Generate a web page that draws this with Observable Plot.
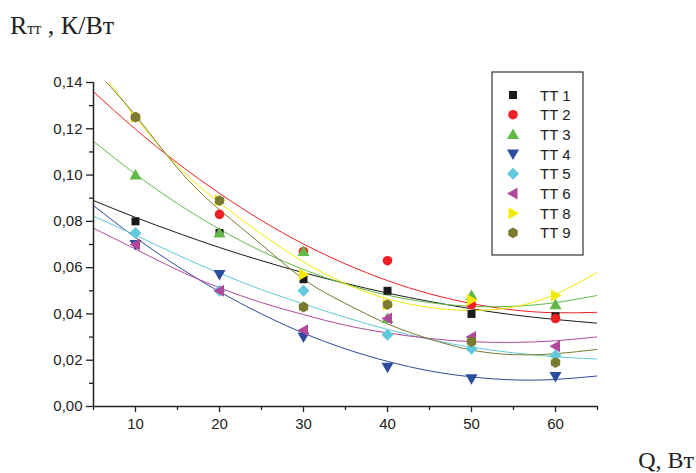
<!DOCTYPE html>
<html>
<head>
<meta charset="utf-8">
<script src="https://cdn.jsdelivr.net/npm/d3@7"></script>
<script src="https://cdn.jsdelivr.net/npm/@observablehq/plot@0.6"></script>
<style>
  html, body { margin: 0; padding: 0; background: #fff; }
  #chart { width: 696px; height: 473px; }
</style>
</head>
<body>
<div id="chart"></div>
<script>
// ---- data ----
const xs = [10, 20, 30, 40, 50, 60];
const seriesNames = ["TT 1", "TT 2", "TT 3", "TT 4", "TT 5", "TT 6", "TT 8", "TT 9"];
const tt1 = [0.080, 0.075, 0.055, 0.050, 0.040, 0.039];
const tt2 = [0.125, 0.083, 0.067, 0.063, 0.044, 0.038];
const tt3 = [0.100, 0.075, 0.067, 0.038, 0.048, 0.044];
const tt4 = [0.070, 0.057, 0.030, 0.017, 0.012, 0.013];
const tt5 = [0.075, 0.050, 0.050, 0.031, 0.025, 0.022];
const tt6 = [0.070, 0.050, 0.033, 0.038, 0.030, 0.026];
const tt8 = [0.125, 0.089, 0.057, 0.044, 0.046, 0.048];
const tt9 = [0.125, 0.089, 0.043, 0.044, 0.028, 0.019];

// fitted curves
const fitX = [5, 10, 15, 20, 25, 30, 35, 40, 45, 50, 55, 60, 65];
const fit1 = [0.089, 0.0817, 0.0750, 0.0687, 0.0630, 0.0578, 0.0532, 0.0490, 0.0454, 0.0422, 0.0396, 0.0376, 0.0360];
const fit2 = [0.136, 0.1198, 0.1052, 0.0921, 0.0804, 0.0702, 0.0616, 0.0544, 0.0487, 0.0445, 0.0417, 0.0405, 0.0407];
const fit3 = [0.1146, 0.1004, 0.0877, 0.0766, 0.0671, 0.0592, 0.0529, 0.0481, 0.0449, 0.0433, 0.0433, 0.0449, 0.0480];
const fit4 = [0.0868, 0.0730, 0.0606, 0.0496, 0.0400, 0.0317, 0.0249, 0.0195, 0.0154, 0.0128, 0.0115, 0.0117, 0.0132];
const fit5 = [0.0822, 0.0740, 0.0655, 0.0576, 0.0505, 0.0443, 0.0385, 0.0333, 0.0290, 0.0256, 0.0232, 0.0215, 0.0205];
const fit6 = [0.0770, 0.0680, 0.0590, 0.0513, 0.0449, 0.0397, 0.0351, 0.0318, 0.0294, 0.0280, 0.0277, 0.0284, 0.0301];
const fit8 = [0.1495, 0.1250, 0.1040, 0.0880, 0.0745, 0.0625, 0.0530, 0.0465, 0.0428, 0.0415, 0.0430, 0.0485, 0.0580];
const fit9 = [0.1460, 0.1258, 0.1030, 0.0850, 0.0700, 0.0550, 0.0445, 0.0357, 0.0292, 0.0244, 0.0224, 0.0228, 0.0247];

const yTicks = [0, 0.02, 0.04, 0.06, 0.08, 0.10, 0.12, 0.14];
const yMinor = [0.01, 0.03, 0.05, 0.07, 0.09, 0.11, 0.13];
const xTicks = [10, 20, 30, 40, 50, 60];
const xMinor = [5, 15, 25, 35, 45, 55, 65];
const xDomain = [5, 65];
const yDomain = [0, 0.14];

const colors = ["#1a1a1a", "#ee2024", "#62b846", "#2c4c9e", "#62c8dc", "#b0489e", "#f2ea00", "#7a7a32"];

// ---- symbols ----
function poly(ctx, pts) {
  ctx.moveTo(pts[0][0], pts[0][1]);
  for (let i = 1; i < pts.length; i++) ctx.lineTo(pts[i][0], pts[i][1]);
  ctx.closePath();
}
const symSquare = {draw(ctx) { poly(ctx, [[-4,-4],[4,-4],[4,4],[-4,4]]); }};
const symCircle = {draw(ctx) { ctx.moveTo(4.8, 0); ctx.arc(0, 0, 4.8, 0, 2 * Math.PI); }};
const symUp = {draw(ctx) { poly(ctx, [[0,-6],[6,4.5],[-6,4.5]]); }};
const symDown = {draw(ctx) { poly(ctx, [[0,6],[6,-4.5],[-6,-4.5]]); }};
const symDiamond = {draw(ctx) { poly(ctx, [[0,-6],[6,0],[0,6],[-6,0]]); }};
const symLeft = {draw(ctx) { poly(ctx, [[-6,0],[4.5,-6],[4.5,6]]); }};
const symRight = {draw(ctx) { poly(ctx, [[6,0],[-4.5,-6],[-4.5,6]]); }};
const symHex = {draw(ctx) {
  const p = [];
  for (let i = 0; i < 6; i++) { const a = Math.PI / 6 + i * Math.PI / 3; p.push([5.4 * Math.cos(a), 5.4 * Math.sin(a)]); }
  poly(ctx, p);
}};
const symbols = [symSquare, symCircle, symUp, symDown, symDiamond, symLeft, symRight, symHex];

const pointSets = [tt1, tt2, tt3, tt4, tt5, tt6, tt8, tt9];
const fitSets = [fit1, fit2, fit3, fit4, fit5, fit6, fit8, fit9];

const fmt = d => d.toFixed(2).replace(".", ",");

const marks = [];
// fitted curves
fitSets.forEach((f, i) => {
  const data = fitX.map((x, j) => ({x, y: f[j]}));
  marks.push(Plot.line(data, {x: "x", y: "y", stroke: colors[i], strokeWidth: 1, curve: "natural", clip: true}));
});
// points
pointSets.forEach((p, i) => {
  const data = xs.map((x, j) => ({x, y: p[j]}));
  marks.push(Plot.dot(data, {x: "x", y: "y", fill: colors[i], stroke: "none", symbol: symbols[i], r: 4}));
});
// axes
marks.push(Plot.ruleX([xDomain[0]], {y1: yDomain[0], y2: yDomain[1], stroke: "#222", strokeWidth: 1.5}));
marks.push(Plot.ruleY([yDomain[0]], {x1: xDomain[0], x2: xDomain[1], stroke: "#222", strokeWidth: 1.5}));
marks.push(Plot.axisY({ticks: yTicks, tickSize: 7, tickPadding: 4, tickFormat: fmt, label: null, stroke: "#222", strokeWidth: 1.3}));
marks.push(Plot.axisY({ticks: yMinor, tickSize: 4, tickFormat: () => "", label: null, stroke: "#222", strokeWidth: 1.3}));
marks.push(Plot.axisX({ticks: xTicks, tickSize: 6, tickPadding: 6, tickFormat: d => String(d), label: null, stroke: "#222", strokeWidth: 1.3}));
marks.push(Plot.axisX({ticks: xMinor, tickSize: 4, tickFormat: () => "", label: null, stroke: "#222", strokeWidth: 1.3}));

const plot = Plot.plot({
  width: 696,
  height: 473,
  marginLeft: 93,
  marginRight: 99,
  marginTop: 82,
  marginBottom: 67,
  x: {domain: xDomain},
  y: {domain: yDomain},
  style: {fontFamily: "'Liberation Sans', Arial, sans-serif", fontSize: "15px", color: "#222", background: "#fff"},
  marks
});
document.getElementById("chart").appendChild(plot);

// ---- titles and legend ----
const svg = d3.select(plot);
const t1 = svg.append("text")
  .attr("x", 10).attr("y", 34)
  .attr("text-anchor", "start")
  .attr("font-family", "'Liberation Serif', 'Times New Roman', serif")
  .attr("font-size", 26).attr("fill", "#222");
t1.append("tspan").text("R");
t1.append("tspan").attr("font-size", 16).text("тт");
t1.append("tspan").text(" , К/Вт");

svg.append("text")
  .attr("x", 694).attr("y", 468).attr("text-anchor", "end")
  .attr("font-family", "'Liberation Serif', 'Times New Roman', serif")
  .attr("font-size", 24).attr("fill", "#222")
  .text("Q, Вт");

const lg = svg.append("g").attr("transform", "translate(492,72)");
lg.append("rect").attr("width", 91).attr("height", 183).attr("fill", "#fff").attr("stroke", "#333").attr("stroke-width", 1.2);
seriesNames.forEach((name, i) => {
  const y = 23 + i * 19.7;
  lg.append("path")
    .attr("d", d3.symbol(symbols[i], 64)())
    .attr("transform", `translate(21,${y})`)
    .attr("fill", colors[i]);
  lg.append("text")
    .attr("x", 48).attr("y", y + 5.5)
    .attr("text-anchor", "start")
    .attr("font-family", "'Liberation Sans', Arial, sans-serif")
    .attr("font-size", 15).attr("fill", "#222")
    .text(name);
});
</script>
</body>
</html>
